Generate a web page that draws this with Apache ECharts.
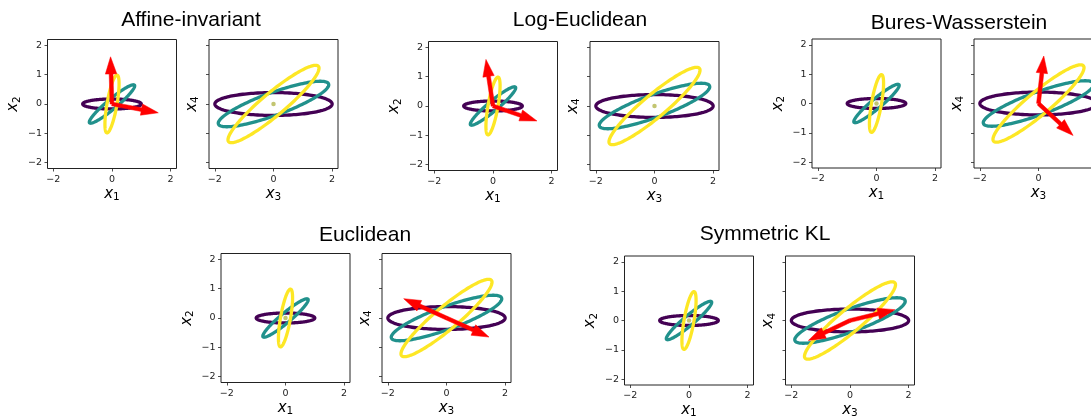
<!DOCTYPE html>
<html>
<head>
<meta charset="utf-8">
<title>Mean covariances</title>
<script src="https://cdn.jsdelivr.net/npm/echarts@6/dist/echarts.min.js"></script>
<style>
  html, body { margin: 0; padding: 0; background: #fff; }
  #chart { width: 1091px; height: 417px; }
</style>
</head>
<body>
<div id="chart"></div>
<script>
// one title per pair of panels
const methodNames = ['Affine-invariant', 'Log-Euclidean', 'Bures-Wasserstein', 'Euclidean', 'Symmetric KL'];

// covariance ellipses, same in every method: semi-axes and angle (deg), centred on the mean
const ellipseMajor12 = [1.0, 1.0, 1.0];
const ellipseMinor12 = [0.17, 0.17, 0.17];
const ellipseAngle12 = [0, 40, 80];
const ellipseMajor34 = [2.0, 2.0, 2.0];
const ellipseMinor34 = [0.39, 0.39, 0.39];
const ellipseAngle34 = [0, 20, 40];
const meanPoint = [0, 0];

// red arrows: [x0, y0, tipX, tipY]
const arrowsAffine12 = [[0, 0, -0.05, 1.61], [0, 0, 1.58, -0.30]];
const arrowsLogEuclid12 = [[0, 0, -0.24, 1.59], [0, 0, 1.50, -0.51]];
const arrowsBures34 = [[0, 0, 0.18, 1.62], [0, 0, 1.18, -1.09]];
const arrowsEuclid34 = [[0, 0, -1.46, 0.66], [0, 0, 1.45, -0.65]];
const arrowsSymKL34 = [[0, 0, 1.53, 0.37], [0, 0, -1.42, -0.68]];

const ticksX = [-2, 0, 2];
const ticksY = [-2, -1, 0, 1, 2];

const ELLIPSE_COLORS = ['#440154', '#21918c', '#fde725'];
const SHAFT_W = 0.13, HEAD_W = 0.39, HEAD_LEN = 0.585;
const SIZE = 129;

const titles = [
  { text: methodNames[0], x: 191, y: 20 },
  { text: methodNames[1], x: 580, y: 20.6 },
  { text: methodNames[2], x: 959, y: 22.9 },
  { text: methodNames[3], x: 365, y: 235.6 },
  { text: methodNames[4], x: 765, y: 234.6 }
];

const panels = [
  { left: 47.5, top: 39.5, plane: 12, arrows: arrowsAffine12 },
  { left: 209, top: 39.5, plane: 34, arrows: [] },
  { left: 428.5, top: 41.5, plane: 12, arrows: arrowsLogEuclid12 },
  { left: 590, top: 41.5, plane: 34, arrows: [] },
  { left: 812, top: 39, plane: 12, arrows: [] },
  { left: 974, top: 39, plane: 34, arrows: arrowsBures34 },
  { left: 221, top: 253.5, plane: 12, arrows: [] },
  { left: 382, top: 253.5, plane: 34, arrows: arrowsEuclid34 },
  { left: 624.5, top: 256, plane: 12, arrows: [] },
  { left: 785.5, top: 256, plane: 34, arrows: arrowsSymKL34 }
];

const fmt = v => (v < 0 ? '\u2212' + (-v) : String(v));

// x with a subscript digit, like matplotlib mathtext
const nameRich = {
  v: { fontFamily: 'DejaVu Sans', fontStyle: 'italic', fontSize: 15, color: '#000', verticalAlign: 'bottom', padding: [0, 0, 1.5, 0] },
  s: { fontFamily: 'DejaVu Sans', fontSize: 10.5, color: '#000', verticalAlign: 'bottom' }
};

function axisBase(i, ticks, showLabels) {
  return {
    type: 'value', gridIndex: i, min: -2.2, max: 2.2,
    nameLocation: 'middle',
    nameTextStyle: { rich: nameRich },
    axisLine: { show: false, onZero: false },
    axisTick: { show: true, length: 3, customValues: ticks, lineStyle: { color: '#222', width: 0.8 } },
    axisLabel: {
      show: showLabels, customValues: ticks, formatter: fmt,
      fontFamily: 'DejaVu Sans', fontSize: 9.5, color: '#222', margin: 6
    },
    splitLine: { show: false }
  };
}

function renderEllipse(params, api) {
  const cx = api.value(0), cy = api.value(1);
  const a = api.value(2), b = api.value(3), ang = api.value(4) * Math.PI / 180;
  const pts = [];
  for (let k = 0; k < 160; k++) {
    const t = 2 * Math.PI * k / 160;
    const ex = a * Math.cos(t), ey = b * Math.sin(t);
    pts.push(api.coord([cx + ex * Math.cos(ang) - ey * Math.sin(ang), cy + ex * Math.sin(ang) + ey * Math.cos(ang)]));
  }
  return {
    type: 'polygon', shape: { points: pts },
    style: { fill: 'none', stroke: ELLIPSE_COLORS[params.dataIndex], lineWidth: 3.3 }
  };
}

function renderArrow(params, api) {
  const x0 = api.value(0), y0 = api.value(1), x1 = api.value(2), y1 = api.value(3);
  const len = Math.hypot(x1 - x0, y1 - y0);
  const ux = (x1 - x0) / len, uy = (y1 - y0) / len, nx = -uy, ny = ux;
  const bx = x1 - ux * HEAD_LEN, by = y1 - uy * HEAD_LEN;
  const w = SHAFT_W / 2, h = HEAD_W / 2;
  const pts = [
    [x0 + nx * w, y0 + ny * w], [bx + nx * w, by + ny * w], [bx + nx * h, by + ny * h],
    [x1, y1],
    [bx - nx * h, by - ny * h], [bx - nx * w, by - ny * w], [x0 - nx * w, y0 - ny * w]
  ].map(p => api.coord(p));
  return { type: 'polygon', shape: { points: pts }, style: { fill: '#ff0000', stroke: '#ff0000', lineWidth: 0.5 } };
}

const grid = [], xAxis = [], yAxis = [], series = [];
panels.forEach((p, i) => {
  grid.push({
    left: p.left, top: p.top, width: SIZE, height: SIZE,
    show: true, borderColor: '#222', borderWidth: 1, backgroundColor: 'transparent',
    containLabel: false, outerBoundsMode: 'none'
  });
  const xa = axisBase(i, ticksX, true);
  xa.name = p.plane === 12 ? '{v|x}{s|1}' : '{v|x}{s|3}';
  xa.nameGap = 17.7;
  xAxis.push(xa);
  const ya = axisBase(i, ticksY, p.plane === 12);
  ya.name = p.plane === 12 ? '{v|x}{s|2}' : '{v|x}{s|4}';
  ya.nameGap = p.plane === 12 ? 25 : 8;
  ya.axisLabel.margin = 5.5;
  yAxis.push(ya);

  const major = p.plane === 12 ? ellipseMajor12 : ellipseMajor34;
  const minor = p.plane === 12 ? ellipseMinor12 : ellipseMinor34;
  const angle = p.plane === 12 ? ellipseAngle12 : ellipseAngle34;
  series.push({
    type: 'custom', xAxisIndex: i, yAxisIndex: i, silent: true, z: 2,
    renderItem: renderEllipse,
    encode: { x: 0, y: 1 },
    data: major.map((a, k) => [meanPoint[0], meanPoint[1], a, minor[k], angle[k]])
  });
  if (p.arrows.length) {
    series.push({
      type: 'custom', xAxisIndex: i, yAxisIndex: i, silent: true, z: 4,
      renderItem: renderArrow,
      encode: { x: [0, 2], y: [1, 3] },
      data: p.arrows
    });
  } else {
    series.push({
      type: 'scatter', xAxisIndex: i, yAxisIndex: i, silent: true, z: 3,
      symbolSize: 4.5, itemStyle: { color: '#b3b64e' },
      data: [meanPoint]
    });
  }
});

const chart = echarts.init(document.getElementById('chart'), null, { renderer: 'canvas' });
chart.setOption({
  animation: false,
  backgroundColor: '#fff',
  graphic: titles.map(t => ({
    type: 'text', x: t.x, y: t.y,
    style: {
      text: t.text, font: '21px "Liberation Sans", Arial, sans-serif', fill: '#000',
      textAlign: 'center', textVerticalAlign: 'middle', align: 'center', verticalAlign: 'middle'
    }
  })),
  grid: grid,
  xAxis: xAxis,
  yAxis: yAxis,
  series: series
});
</script>
</body>
</html>
